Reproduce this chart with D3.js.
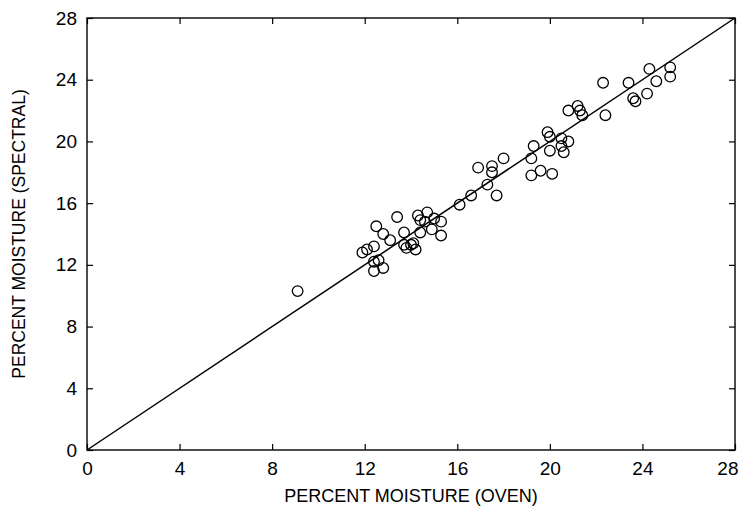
<!DOCTYPE html>
<html>
<head>
<meta charset="utf-8">
<script src="https://cdn.jsdelivr.net/npm/d3@7"></script>
<style>
  body { margin: 0; background: #fff; }
  text { font-family: "Liberation Sans", Arial, sans-serif; fill: #000; }
</style>
</head>
<body>
<script>
// oven moisture (x) vs spectral moisture (y)
const ovenVals = [9.1, 11.9, 12.1, 12.4, 12.4, 12.6, 12.4, 12.8, 12.5, 12.8,
  13.1, 13.4, 13.7, 13.7, 14.0, 14.1, 14.2, 13.8, 14.3, 14.4,
  14.7, 14.6, 15.0, 15.3, 14.9, 14.4, 15.3, 16.1, 16.6, 17.3,
  17.7, 16.9, 17.5, 17.5, 18.0, 19.2, 19.2, 19.6, 20.1, 19.9,
  20.0, 20.5, 20.8, 19.3, 20.5, 20.6, 20.0, 20.8, 21.2, 21.3,
  21.4, 22.4, 22.3, 23.4, 23.6, 23.7, 24.2, 24.3, 24.6, 25.2, 25.2];
const spectralVals = [10.3, 12.8, 13.0, 13.2, 12.2, 12.3, 11.6, 11.8, 14.5, 14.0,
  13.6, 15.1, 14.1, 13.3, 13.3, 13.4, 13.0, 13.1, 15.2, 14.9,
  15.4, 14.8, 15.0, 14.8, 14.3, 14.1, 13.9, 15.9, 16.5, 17.2,
  16.5, 18.3, 18.4, 18.0, 18.9, 18.9, 17.8, 18.1, 17.9, 20.6,
  20.3, 20.2, 20.0, 19.7, 19.7, 19.3, 19.4, 22.0, 22.3, 22.0,
  21.7, 21.7, 23.8, 23.8, 22.8, 22.6, 23.1, 24.7, 23.9, 24.8, 24.2];
const tickVals = [0, 4, 8, 12, 16, 20, 24, 28];
const lineEnds = [0, 28];

const W = 743, H = 510;
const margin = {left: 87, top: 18, right: 8, bottom: 60};

const svg = d3.select("body").append("svg")
  .attr("width", W)
  .attr("height", H);

const x = d3.scaleLinear().domain([0, 28]).range([margin.left, W - margin.right]);
const y = d3.scaleLinear().domain([0, 28]).range([H - margin.bottom, margin.top]);

// frame
svg.append("rect")
  .attr("x", x(0))
  .attr("y", y(28))
  .attr("width", x(28) - x(0))
  .attr("height", y(0) - y(28))
  .attr("fill", "none")
  .attr("stroke", "#000")
  .attr("stroke-width", 1.4);

// bottom axis, inward ticks
const xAx = svg.append("g")
  .attr("transform", `translate(0,${y(0)})`)
  .call(d3.axisBottom(x).tickValues(tickVals).tickSize(-6).tickPadding(12).tickFormat(d3.format("d")));
xAx.select(".domain").remove();
xAx.selectAll("text").attr("font-size", 19).attr("font-family", "Liberation Sans, Arial, sans-serif");
// last label sits inside the window edge
xAx.selectAll("text").filter(d => d === 28).attr("text-anchor", "end").attr("dx", 3);

// left axis, inward ticks
const yAx = svg.append("g")
  .attr("transform", `translate(${x(0)},0)`)
  .call(d3.axisLeft(y).tickValues(tickVals).tickSize(-6).tickPadding(10).tickFormat(d3.format("d")));
yAx.select(".domain").remove();
yAx.selectAll("text").attr("font-size", 19).attr("font-family", "Liberation Sans, Arial, sans-serif");

// top + right ticks, no labels
const tAx = svg.append("g")
  .attr("transform", `translate(0,${y(28)})`)
  .call(d3.axisTop(x).tickValues(tickVals).tickSize(-6).tickFormat(""));
tAx.select(".domain").remove();
const rAx = svg.append("g")
  .attr("transform", `translate(${x(28)},0)`)
  .call(d3.axisRight(y).tickValues(tickVals).tickSize(-6).tickFormat(""));
rAx.select(".domain").remove();

svg.selectAll(".tick line").attr("stroke", "#000").attr("stroke-width", 1.2);

// 1:1 line
svg.append("line")
  .attr("x1", x(lineEnds[0]))
  .attr("y1", y(lineEnds[0]))
  .attr("x2", x(lineEnds[1]))
  .attr("y2", y(lineEnds[1]))
  .attr("stroke", "#000")
  .attr("stroke-width", 1.5);

// points
svg.append("g").selectAll("circle")
  .data(ovenVals)
  .join("circle")
  .attr("cx", d => x(d))
  .attr("cy", (d, i) => y(spectralVals[i]))
  .attr("r", 5.3)
  .attr("fill", "none")
  .attr("stroke", "#000")
  .attr("stroke-width", 1.3);

// axis titles
svg.append("text")
  .attr("x", (x(0) + x(28)) / 2)
  .attr("y", 502)
  .attr("text-anchor", "middle")
  .attr("font-size", 18)
  .text("PERCENT MOISTURE (OVEN)");

svg.append("text")
  .attr("transform", `translate(25,${(y(0) + y(28)) / 2}) rotate(-90)`)
  .attr("text-anchor", "middle")
  .attr("font-size", 17.5)
  .text("PERCENT MOISTURE (SPECTRAL)");
</script>
</body>
</html>
